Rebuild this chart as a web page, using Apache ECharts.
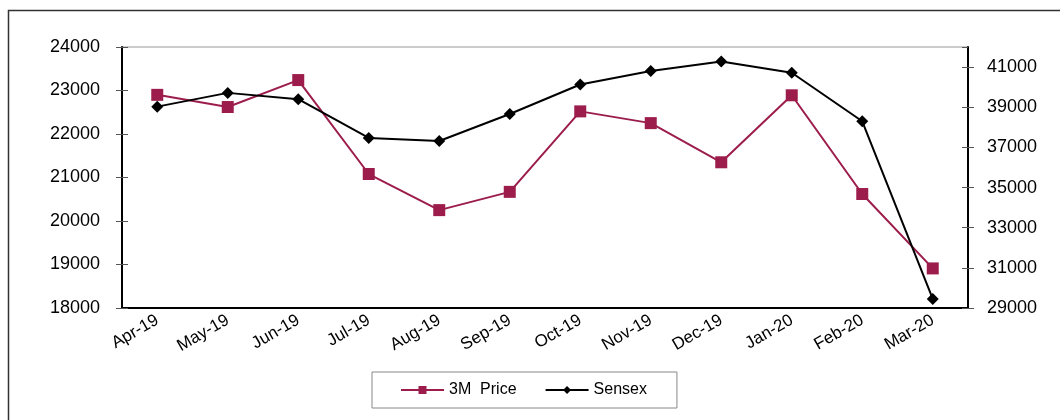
<!DOCTYPE html>
<html style="height: 100%">
<head>
    <meta charset="utf-8">
</head>
<body style="height: 100%; margin: 0; background: #fff">
    <div id="container" style="width: 1060px; height: 420px"></div>
    <script src="https://cdn.jsdelivr.net/npm/echarts@6/dist/echarts.min.js"></script>
    <script type="text/javascript">
        var months = ['Apr-19', 'May-19', 'Jun-19', 'Jul-19', 'Aug-19', 'Sep-19',
            'Oct-19', 'Nov-19', 'Dec-19', 'Jan-20', 'Feb-20', 'Mar-20'];
        var price3m = [22900, 22620, 23240, 21080, 20250, 20670, 22520, 22250, 21350, 22890, 20620, 18910];
        var sensex = [39030, 39715, 39400, 37470, 37320, 38665, 40130, 40800, 41280, 40720, 38300, 29450];

        var font = 'Liberation Sans, Arial, sans-serif';
        var dom = document.getElementById('container');
        var myChart = echarts.init(dom);

        // left / right scales, used twice so ticks cross the axis line
        var leftScale = { min: 18000, max: 24000, interval: 1000 };
        var rightScale = { min: 29000, max: 42000, interval: 2000 };
        var plain = function (v) { return String(v); };

        var option = {
            animation: false,
            backgroundColor: '#fff',
            textStyle: { fontFamily: font, color: '#000' },
            graphic: [{
                type: 'rect',
                shape: { x: 8.5, y: 10.5, width: 1100, height: 500 },
                style: { fill: 'none', stroke: '#333', lineWidth: 1.5 },
                silent: true
            }],
            grid: {
                left: 122, right: 92, top: 47, bottom: 112,
                show: true, borderColor: '#999', borderWidth: 1
            },
            legend: {
                left: 372, top: 372,
                padding: [10, 30, 10, 28],
                itemGap: 28,
                itemWidth: 43,
                itemHeight: 10,
                borderColor: '#888',
                borderWidth: 1,
                textStyle: { fontFamily: font, fontSize: 16, color: '#000' },
                data: ['3M  Price', 'Sensex']
            },
            xAxis: [{
                type: 'category',
                data: months,
                boundaryGap: true,
                axisLine: { lineStyle: { color: '#000', width: 2 } },
                axisTick: { inside: true, length: 5, lineStyle: { color: '#555' } },
                axisLabel: { rotate: 30, fontSize: 17, color: '#000', fontFamily: font, margin: 11 },
                splitLine: { show: false }
            }, {
                type: 'category',
                data: months,
                position: 'bottom',
                boundaryGap: true,
                axisLine: { show: false },
                axisTick: { inside: false, length: 4, lineStyle: { color: '#555' } },
                axisLabel: { show: false },
                splitLine: { show: false }
            }],
            yAxis: [Object.assign({
                type: 'value',
                position: 'left',
                axisLine: { show: true, lineStyle: { color: '#000', width: 2 } },
                axisTick: { show: true, length: 6, lineStyle: { color: '#555' } },
                axisLabel: { fontSize: 18, color: '#000', fontFamily: font, margin: 22, formatter: plain },
                splitLine: { show: false }
            }, leftScale), Object.assign({
                type: 'value',
                position: 'right',
                axisLine: { show: true, lineStyle: { color: '#000', width: 2 } },
                axisTick: { show: true, length: 6, lineStyle: { color: '#555' } },
                axisLabel: { fontSize: 18, color: '#000', fontFamily: font, margin: 19, showMaxLabel: false, formatter: plain },
                splitLine: { show: false }
            }, rightScale), Object.assign({
                type: 'value',
                position: 'left',
                axisLine: { show: false },
                axisTick: { show: true, inside: true, length: 6, lineStyle: { color: '#555' } },
                axisLabel: { show: false },
                splitLine: { show: false }
            }, leftScale), Object.assign({
                type: 'value',
                position: 'right',
                axisLine: { show: false },
                axisTick: { show: true, inside: true, length: 6, lineStyle: { color: '#555' } },
                axisLabel: { show: false },
                splitLine: { show: false }
            }, rightScale)],
            series: [{
                name: '3M  Price',
                type: 'line',
                yAxisIndex: 0,
                data: price3m,
                symbol: 'rect',
                symbolSize: 12,
                itemStyle: { color: '#9c1c4c' },
                lineStyle: { color: '#9c1c4c', width: 2 },
                z: 3
            }, {
                name: 'Sensex',
                type: 'line',
                yAxisIndex: 1,
                data: sensex,
                symbol: 'diamond',
                symbolSize: 12,
                itemStyle: { color: '#000' },
                lineStyle: { color: '#000', width: 2 },
                z: 4
            }]
        };

        myChart.setOption(option);
    </script>
</body>
</html>
